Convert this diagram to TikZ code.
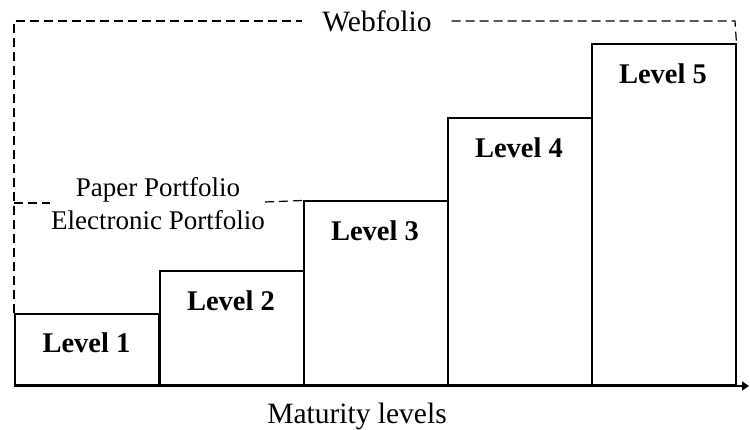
\documentclass[tikz,border=0pt]{standalone}
\usepackage{fontspec}
\setmainfont{Liberation Serif}
\usetikzlibrary{arrows.meta}
\begin{document}
\begin{tikzpicture}[x=1pt,y=-1pt,
  levelbox/.style={draw, line width=1.5pt, minimum width=144pt, anchor=south west, inner sep=0pt},
  levellabel/.style={font=\fontsize{28.5}{32}\selectfont\bfseries, anchor=base},
  plainlabel/.style={font=\fontsize{27}{32}\selectfont, anchor=base},
  biglabel/.style={font=\fontsize{29.5}{34}\selectfont, anchor=base, inner xsep=20pt},
  dashline/.style={line width=1.2pt, dash pattern=on 9pt off 5pt}]
\useasboundingbox (0,0) rectangle (750,430);
% boxes
\node[levelbox, minimum height=71pt]  (b1) at (14,386) {};
\node[levelbox, minimum height=114pt] (b2) at (159,386) {};
\node[levelbox, minimum height=184pt] (b3) at (303,386) {};
\node[levelbox, minimum height=267pt] (b4) at (447,386) {};
\node[levelbox, minimum height=341pt] (b5) at (591,386) {};
% labels
\node[levellabel] (t1) at (86.5,353) {Level 1};
\node[levellabel] (t2) at (231,311) {Level 2};
\node[levellabel] (t3) at (375,241) {Level 3};
\node[levellabel] (t4) at (519,158) {Level 4};
\node[levellabel] (t5) at (663,84) {Level 5};
% axis
\coordinate (o) at (14,386);
\coordinate (xend) at (749,386);
\draw[line width=2.2pt, -{Triangle[length=7pt,width=9pt]}] (o) -- (xend);
\node[biglabel] (mat) at (357,423) {Maturity levels};
% webfolio
\node[biglabel] (web) at (377,32) {Webfolio};
\coordinate (wl) at (14,21);
\coordinate (wr) at (735,21);
\draw[dashline] (b1.north west) -- (wl) -- (web.west |- wl);
\draw[dashline] (web.east |- wr) -- (wr) -- (b5.north east);
% paper portfolio
\node[plainlabel] (pp) at (158,197) {Paper Portfolio};
\node[plainlabel] (ep) at (158,230) {Electronic Portfolio};
\coordinate (pl) at (14,203);
\coordinate (pr1) at (50,203);
\coordinate (pr2) at (265,202);
\draw[dashline] (pl) -- (pr1);
\draw[dashline] (pr2) -- (b3.north west);
\end{tikzpicture}
\end{document}
